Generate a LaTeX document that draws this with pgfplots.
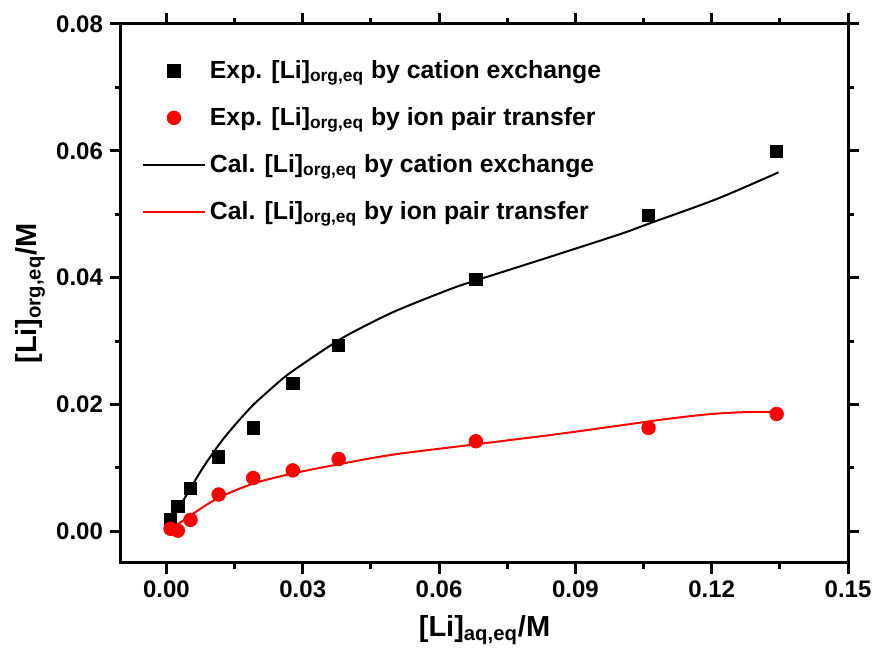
\documentclass[border=0pt]{standalone}
\usepackage{fontspec}
\setmainfont{Liberation Sans}
\usepackage{pgfplots}
\pgfplotsset{compat=1.18}
\begin{document}
\begin{tikzpicture}
\begin{axis}[
  scale only axis, width=363.5pt, height=269.5pt,
  xmin=-0.01, xmax=0.15, ymin=-0.005, ymax=0.08,
  xtick={0,0.03,0.06,0.09,0.12,0.15},
  ytick={0,0.02,0.04,0.06,0.08},
  minor x tick num=1, minor y tick num=1,
  scaled ticks=false,
  tick align=outside,
  major tick length=5.5pt, minor tick length=3pt,
  axis line style={line width=1.5pt},
  tick style={line width=1.5pt, black},
  /pgf/number format/assume math mode=true,
  xticklabel style={/pgf/number format/.cd, fixed, fixed zerofill, precision=2},
  yticklabel style={/pgf/number format/.cd, fixed, fixed zerofill, precision=2},
  ticklabel style={font=\fontsize{12}{14}\selectfont\bfseries},
  label style={font=\fontsize{14.5}{17}\selectfont\bfseries},
  xlabel={[Li]\textsubscript{aq,eq}/M},
  ylabel={[Li]\textsubscript{org,eq}/M},
  xlabel style={at={(axis description cs:0.5,-0.124)}, anchor=center},
  ylabel style={at={(axis description cs:-0.125,0.5)}, anchor=center},
  legend style={draw=none, fill=none, at={(axis description cs:0.02,0.948)}, anchor=north west,
    font=\fontsize{12.4}{15}\selectfont\bfseries, row sep=9pt, cells={anchor=west}},
  legend image code/.code={\draw[mark repeat=2,mark phase=2,#1] plot coordinates {(0pt,0pt) (15.5pt,0pt) (31pt,0pt)};},
]
\addplot[only marks, mark=square*, mark size=3.1pt, black] coordinates {
 (0.0009,0.0018) (0.0025,0.0039) (0.0053,0.0068) (0.0115,0.0117) (0.0191,0.0163)
 (0.0278,0.0233) (0.0379,0.0293) (0.0681,0.0397) (0.1061,0.0498) (0.1343,0.0599)};
\addlegendentry{Exp. [Li]\textsubscript{org,eq} by cation exchange}
\addplot[only marks, mark=*, mark size=3.4pt, red] coordinates {
 (0.0009,0.0004) (0.0025,0.0001) (0.0053,0.0018) (0.0115,0.0058) (0.0191,0.0084)
 (0.0278,0.0096) (0.0379,0.0114) (0.0681,0.0142) (0.1061,0.0163) (0.1343,0.0185)};
\addlegendentry{Exp. [Li]\textsubscript{org,eq} by ion pair transfer}
\addplot[black, line width=1pt, smooth] coordinates {
 (0.0031,0.0041) (0.0053,0.0068) (0.0082,0.0102) (0.0119,0.0140) (0.0156,0.0172)
 (0.0192,0.0200) (0.0229,0.0224) (0.0265,0.0246) (0.0317,0.0272) (0.0361,0.0293)
 (0.0405,0.0312) (0.0500,0.0346) (0.0625,0.0382) (0.0683,0.0396) (0.0845,0.0433)
 (0.1000,0.0469) (0.1065,0.0486) (0.1211,0.0524) (0.1347,0.0566)};
\addlegendentry{Cal. [Li]\textsubscript{org,eq} by cation exchange}
\addplot[red, line width=1pt, smooth] coordinates {
 (0.0009,0.0003) (0.0055,0.0026) (0.0113,0.0052) (0.0190,0.0075) (0.0277,0.0091)
 (0.0374,0.0105) (0.0500,0.0121) (0.0679,0.0137) (0.0858,0.0153) (0.1000,0.0167)
 (0.1100,0.0177) (0.1200,0.0185) (0.1280,0.0188) (0.1342,0.0188)};
\addlegendentry{Cal. [Li]\textsubscript{org,eq} by ion pair transfer}
\end{axis}
\pgfresetboundingbox
\path[use as bounding box] ([xshift=-60.5pt,yshift=-49.5pt]current axis.south west) rectangle ([xshift=13.5pt,yshift=12pt]current axis.north east);
\end{tikzpicture}
\end{document}
